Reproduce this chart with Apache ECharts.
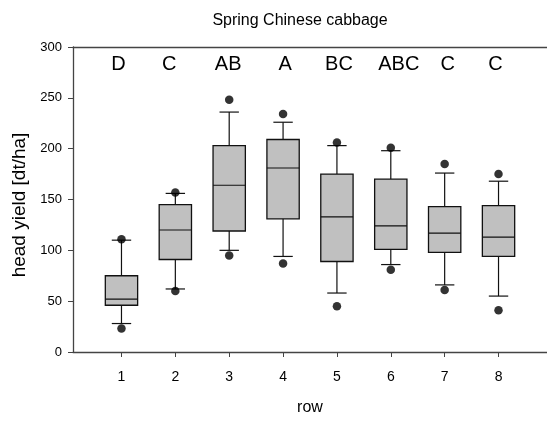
<!DOCTYPE html>
<html>
<head>
<meta charset="utf-8">
<script src="https://cdn.jsdelivr.net/npm/echarts@6/dist/echarts.min.js"></script>
<style>html,body{margin:0;padding:0;background:#fff;}#c{width:547px;height:421px;}</style>
</head>
<body>
<div id="c"></div>
<script>
var rows = [1, 2, 3, 4, 5, 6, 7, 8];
var letters = ['D', 'C', 'AB', 'A', 'BC', 'ABC', 'C', 'C'];
var whiskerLow  = [28, 62, 100, 94, 58, 86, 66, 55];
var q1          = [46, 91, 119, 131, 89, 101, 98, 94];
var median      = [52, 120, 164, 181, 133, 124, 117, 113];
var q3          = [75, 145, 203, 209, 175, 170, 143, 144];
var whiskerHigh = [110, 156, 236, 226, 203, 198, 176, 168];
var outlierLow  = [23, 60, 95, 87, 45, 81, 61, 41];
var outlierHigh = [111, 157, 248, 234, 206, 201, 185, 175];
var yTicks = [0, 50, 100, 150, 200, 250, 300];

var FONT = '"Liberation Sans", Arial, sans-serif';
// small horizontal nudges of the hand-placed letter annotations (px)
var LETTER_NUDGE = [-3, -6, -1, 2, 2, 8, 3, -3];

var boxData = rows.map(function (r, i) {
  return [r, whiskerLow[i], q1[i], median[i], q3[i], whiskerHigh[i]];
});
var outlierData = [];
rows.forEach(function (r, i) {
  outlierData.push([r, outlierLow[i]]);
  outlierData.push([r, outlierHigh[i]]);
});
var letterData = rows.map(function (r, i) { return [r, 300]; });

function renderBox(params, api) {
  var x = api.value(0);
  var unit = api.size([1, 0])[0];
  var bw = unit * 0.6, cw = unit * 0.36;
  var cx = api.coord([x, 0])[0];
  var yLo = api.coord([x, api.value(1)])[1];
  var yQ1 = api.coord([x, api.value(2)])[1];
  var yMd = api.coord([x, api.value(3)])[1];
  var yQ3 = api.coord([x, api.value(4)])[1];
  var yHi = api.coord([x, api.value(5)])[1];
  var ls = { stroke: '#111', lineWidth: 1.2, fill: null };
  return {
    type: 'group',
    children: [
      { type: 'line', shape: { x1: cx, y1: yHi, x2: cx, y2: yQ3 }, style: ls },
      { type: 'line', shape: { x1: cx, y1: yQ1, x2: cx, y2: yLo }, style: ls },
      { type: 'line', shape: { x1: cx - cw / 2, y1: yHi, x2: cx + cw / 2, y2: yHi }, style: ls },
      { type: 'line', shape: { x1: cx - cw / 2, y1: yLo, x2: cx + cw / 2, y2: yLo }, style: ls },
      { type: 'rect', shape: { x: cx - bw / 2, y: yQ3, width: bw, height: yQ1 - yQ3 },
        style: { fill: '#c0c0c0', stroke: '#111', lineWidth: 1.3 } },
      { type: 'line', shape: { x1: cx - bw / 2, y1: yMd, x2: cx + bw / 2, y2: yMd }, style: ls }
    ]
  };
}

function renderLetter(params, api) {
  var p = api.coord([api.value(0), api.value(1)]);
  return {
    type: 'text',
    x: p[0] + LETTER_NUDGE[params.dataIndex], y: p[1] + 17,
    style: {
      text: letters[params.dataIndex],
      font: '20px ' + FONT,
      fill: '#000',
      align: 'center',
      verticalAlign: 'middle'
    }
  };
}

var chart = echarts.init(document.getElementById('c'), null, { renderer: 'canvas' });
chart.setOption({
  animation: false,
  backgroundColor: '#fff',
  textStyle: { fontFamily: FONT },
  title: {
    text: 'Spring Chinese cabbage',
    left: 295, top: 8, textAlign: 'center',
    textStyle: { fontFamily: FONT, fontSize: 16, fontWeight: 'normal', color: '#000' }
  },
  graphic: [{
    type: 'text', x: 20, y: 205, rotation: Math.PI / 2,
    style: { text: 'head yield [dt/ha]', font: '19px ' + FONT, fill: '#000',
      align: 'center', verticalAlign: 'middle' }
  }],
  grid: { left: 73, right: 0, top: 47, bottom: 67, containLabel: false },
  xAxis: [{
    type: 'value', min: 0.1, max: 8.9,
    name: 'row', nameLocation: 'middle', nameGap: 48,
    nameTextStyle: { fontFamily: FONT, fontSize: 16, color: '#000' },
    axisLine: { show: true, onZero: false, lineStyle: { color: '#444', width: 1.3 } },
    axisTick: { show: true, length: 5, customValues: rows, lineStyle: { color: '#444' } },
    axisLabel: { customValues: rows, margin: 18, fontFamily: FONT, fontSize: 14, color: '#000' },
    splitLine: { show: false }
  }, {
    type: 'value', min: 0.1, max: 8.9, position: 'top',
    axisLine: { show: true, onZero: false, lineStyle: { color: '#444', width: 1.3 } },
    axisTick: { show: false }, axisLabel: { show: false }, splitLine: { show: false }
  }],
  yAxis: {
    type: 'value', min: 0, max: 300, interval: 50,
    axisLine: { show: true, onZero: false, lineStyle: { color: '#444', width: 1.3 } },
    axisTick: { show: true, length: 5, lineStyle: { color: '#444' } },
    axisLabel: { margin: 11, fontFamily: FONT, fontSize: 13, color: '#000',
      formatter: function (v) { return yTicks.indexOf(v) >= 0 ? String(v) : ''; } },
    splitLine: { show: false }
  },
  series: [{
    type: 'custom', renderItem: renderBox, data: boxData,
    encode: { x: 0, y: [1, 2, 3, 4, 5] }, z: 2
  }, {
    type: 'scatter', data: outlierData, symbol: 'circle', symbolSize: 8.5,
    itemStyle: { color: '#000' }, z: 3
  }, {
    type: 'custom', renderItem: renderLetter, data: letterData,
    encode: { x: 0, y: 1 }, z: 4
  }]
});
</script>
</body>
</html>
